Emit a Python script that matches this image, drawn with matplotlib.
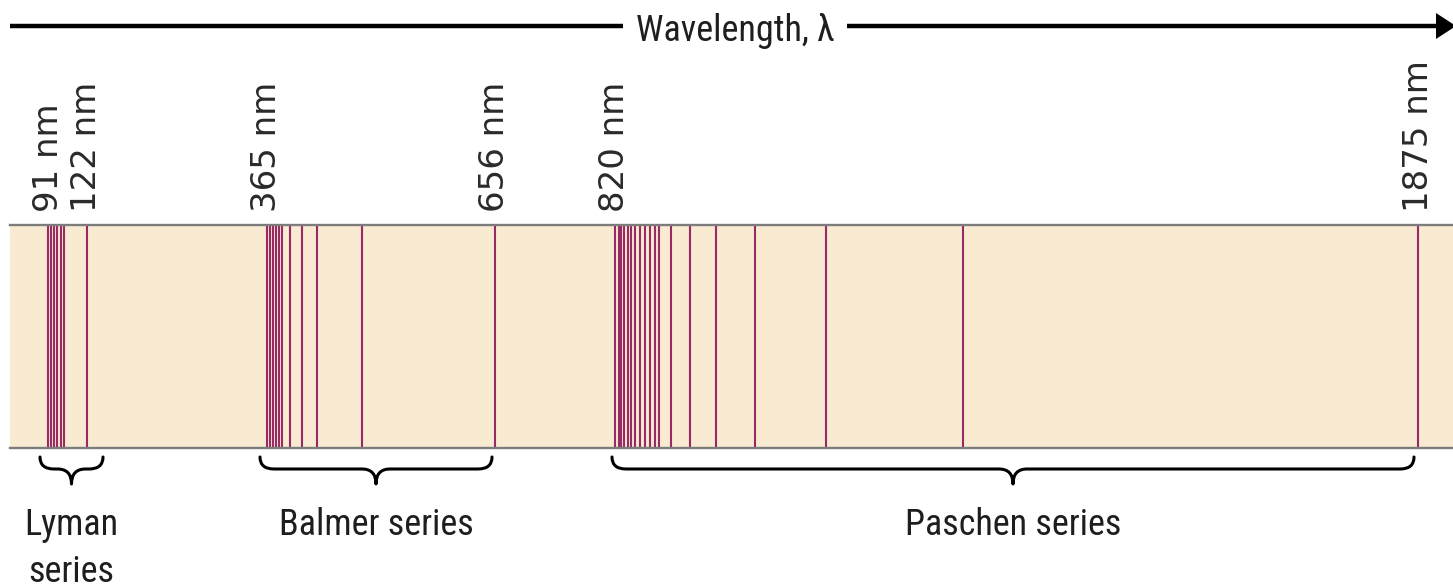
import numpy as np
import matplotlib.pyplot as plt
from matplotlib.path import Path
from matplotlib.patches import PathPatch, Polygon

# line positions (nm) as drawn in the figure
lyman = [91, 93, 96, 98.5, 101, 104, 122]
balmer = [365, 369, 373, 376, 380, 384, 394, 410, 429, 486, 656]
paschen = [820, 825, 828, 832, 837, 841, 846, 853, 859, 866, 873, 878,
           894, 918, 953, 1004, 1097, 1277, 1875]
series_names = ["Lyman", "Balmer", "Paschen"]
series_labels = [["Lyman", "series"], ["Balmer series"], ["Paschen series"]]
marked_nm = [91, 122, 365, 656, 820, 1875]
axis_title = "Wavelength, \u03bb"

W, H = 1453, 588
narrow = ["Roboto Condensed", "Roboto", "DejaVu Sans"]
line_col = "#9a2a66"
bar_col = "#f9ebd1"
edge_col = "#7c7c7c"
text_col = "#1e1e1e"

# schematic (piecewise linear) wavelength scale, nm -> figure pixels
knots_nm = [0, 91, 122, 365, 656, 820, 1875, 2500]
knots_px = [-66.5, 48, 87, 267, 495, 615, 1418, 1894]


def fwd(x):
    return np.interp(x, knots_nm, knots_px)


def inv(p):
    return np.interp(p, knots_px, knots_nm)


fig = plt.figure(figsize=(W / 100, H / 100), dpi=100)
fig.patch.set_facecolor("white")

ax = fig.add_axes([0, 0, 1, 1])
ax.set_xscale("function", functions=(fwd, inv))
ax.set_xlim(inv(0), inv(W))
ax.set_ylim(H, 0)
ax.axis("off")

bar_top, bar_bot = 225, 448
ax.axhspan(bar_top, bar_bot, xmin=10 / W, xmax=1, color=bar_col, lw=0, zorder=1)
for yb in (bar_top, bar_bot):
    ax.axhline(yb, xmin=10 / W, xmax=1, color=edge_col, lw=1.7, zorder=3)

for wl in (lyman, balmer, paschen):
    ax.vlines(wl, bar_top + 1, bar_bot - 1, color=line_col, lw=1.5, zorder=2)

for nm in marked_nm:
    ax.text(nm, 212, f"{nm} nm", rotation=90, ha="center", va="bottom",
            fontsize=24.5, color="#2a2a2a", family="DejaVu Sans")

# decoration layer in pixel coordinates
deco = fig.add_axes([0, 0, 1, 1], zorder=3)
deco.patch.set_alpha(0)
deco.set_xlim(0, W)
deco.set_ylim(H, 0)
deco.axis("off")

# wavelength arrow
deco.plot([10, 1440], [26, 26], color="black", lw=3.2, solid_capstyle="butt")
deco.add_patch(Polygon([(1436, 13), (1436, 39), (1456, 26)], closed=True,
                       color="black", lw=0))
deco.text(735, 41, axis_title, ha="center", va="baseline", fontsize=26,
          color=text_col, family=narrow,
          bbox=dict(boxstyle="square,pad=0.35", fc="white", ec="none"))


def brace(x0, x1, ytop=457, ymid=469, ytip=484):
    xt = (x0 + x1) / 2
    r = min(14, (xt - x0) / 2.2)
    verts = [(x0, ytop), (x0, ymid), (x0 + r, ymid),
             (xt - r, ymid), (xt, ymid), (xt, ytip),
             (xt, ymid), (xt + r, ymid),
             (x1 - r, ymid), (x1, ymid), (x1, ytop)]
    codes = [Path.MOVETO, Path.CURVE3, Path.CURVE3,
             Path.LINETO, Path.CURVE3, Path.CURVE3,
             Path.CURVE3, Path.CURVE3,
             Path.LINETO, Path.CURVE3, Path.CURVE3]
    deco.add_patch(PathPatch(Path(verts, codes), fc="none", ec="black",
                             lw=2.2, capstyle="round", joinstyle="round"))
    return xt


brace_pad = {"Lyman": (-8, 16), "Balmer": (-7, -3), "Paschen": (-3, -4)}
for name, wl, lab in zip(series_names, (lyman, balmer, paschen), series_labels):
    p0 = ax.transData.transform((min(wl), 0))[0] + brace_pad[name][0]
    p1 = ax.transData.transform((max(wl), 0))[0] + brace_pad[name][1]
    xt = brace(p0, p1)
    for k, line in enumerate(lab):
        deco.text(xt, 535 + 47 * k, line, ha="center", va="baseline",
                  fontsize=26, color=text_col, family=narrow)

fig.savefig("out.png", dpi=100, facecolor="white")
